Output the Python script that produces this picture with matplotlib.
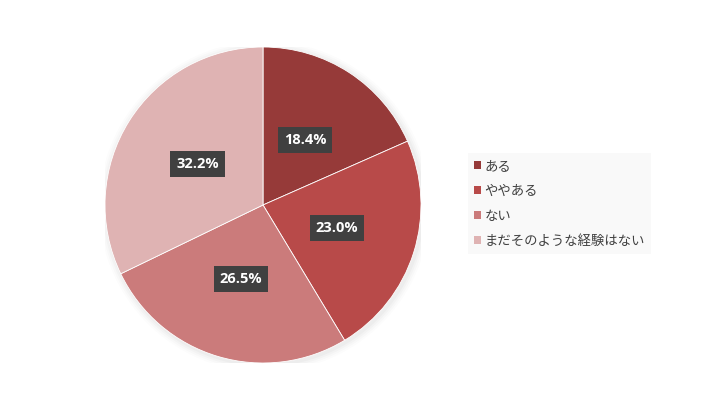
import matplotlib
matplotlib.use("Agg")
import matplotlib.pyplot as plt
from matplotlib.patches import Patch, Circle

plt.rcParams['font.family'] = ['Noto Sans CJK JP', 'DejaVu Sans']

categories = ['ある', 'ややある', 'ない', 'まだそのような経験はない']
values = [18.4, 23.0, 26.5, 32.2]
colors = ['#963A39', '#B84A49', '#CB7B7B', '#DFB3B3']

W, H = 720, 405
fig = plt.figure(figsize=(7.2, 4.05), dpi=100)
fig.patch.set_facecolor('white')

cx, cy, r = 263, 205, 158
ax = fig.add_axes([(cx - r) / W, (H - cy - r) / H, 2 * r / W, 2 * r / H])

# subtle shadow behind the pie
for i, a in enumerate([0.025, 0.02, 0.015, 0.01]):
    ax.add_patch(Circle((0.01, -0.01), 1.0 + 0.012 * (i + 1), color='black',
                        alpha=a, lw=0, zorder=0))

wedges, texts, autotexts = ax.pie(
    values, colors=colors, startangle=90, counterclock=False,
    autopct=lambda p: f'{p:.1f}%', pctdistance=0.49,
    wedgeprops=dict(linewidth=0.6, edgecolor='white'),
    textprops=dict(color='white', fontsize=10.5, fontweight='bold',
                   family=['Open Sans', 'DejaVu Sans']))
for t in autotexts:
    t.set_bbox(dict(boxstyle='square,pad=0.4', facecolor='#404040',
                    edgecolor='none'))
ax.set_xlim(-1.0, 1.0)
ax.set_ylim(-1.0, 1.0)
ax.set_aspect('equal')
ax.axis('off')

handles = [Patch(facecolor=c, edgecolor='none') for c in colors]
leg = fig.legend(handles, categories, loc='upper left',
                 bbox_to_anchor=(468 / W, 1 - 153 / H),
                 frameon=True, fancybox=False, fontsize=9.6,
                 handlelength=0.55, handleheight=0.55, handletextpad=0.25,
                 labelspacing=0.82, borderpad=0.45, borderaxespad=0,
                 labelcolor='#404040')
leg.get_frame().set_facecolor('#F8F8F8')
leg.get_frame().set_edgecolor('none')

fig.savefig('out.png', dpi=100, facecolor='white')
